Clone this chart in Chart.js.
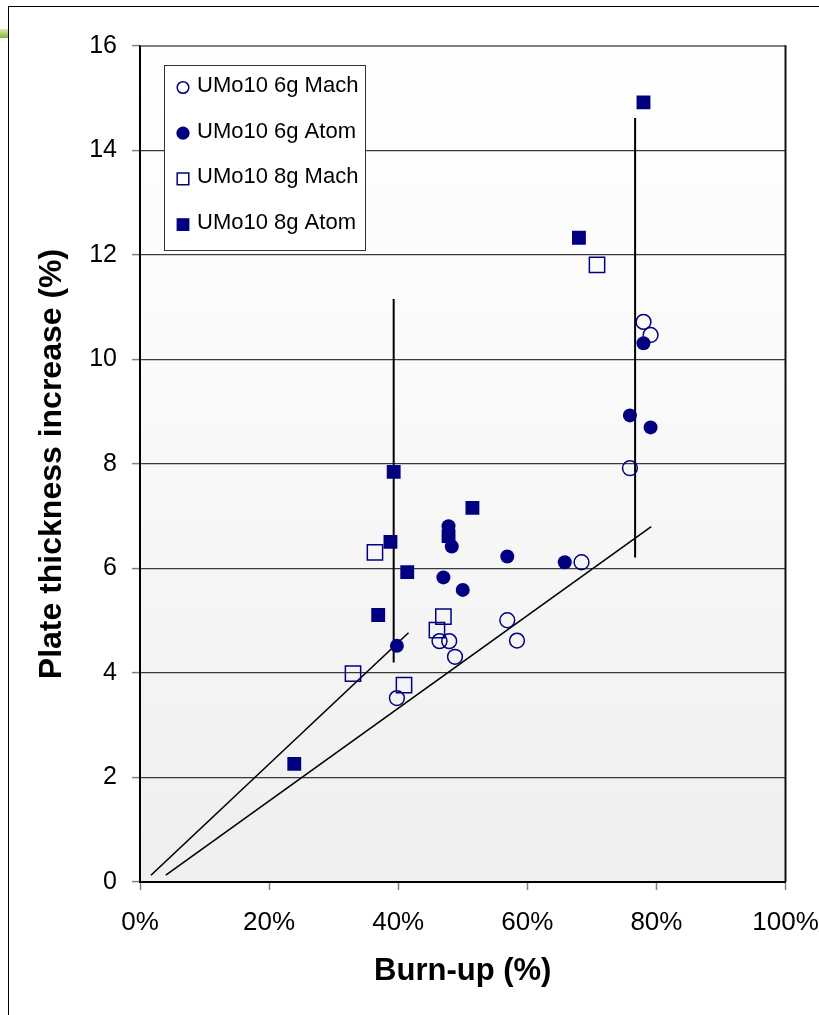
<!DOCTYPE html>
<html>
<head>
<meta charset="utf-8">
<script src="https://cdn.jsdelivr.net/npm/chart.js@4.4.1/dist/chart.umd.min.js"></script>
<style>
  html, body { margin: 0; padding: 0; background: #fff; }
  #wrap { position: relative; width: 819px; height: 1015px; overflow: hidden; }
  #frameL { position: absolute; left: 8px; top: 6px; width: 1px; height: 1009px; background: #000; }
  #frameT { position: absolute; left: 8px; top: 6px; width: 811px; height: 1px; background: #000; }
  #green { position: absolute; left: 0; top: 29px; width: 8px; height: 9px; background: linear-gradient(#d7ecb8, #7dbb2e); }
  canvas { position: absolute; left: 0; top: 0; }
</style>
</head>
<body>
<div id="wrap">
  <div id="green"></div>
  <div id="frameL"></div>
  <div id="frameT"></div>
  <canvas id="c" width="819" height="1015"></canvas>
</div>
<script>
// ---- data (burn-up %, plate thickness increase %) ----
const seriesNames = ['UMo10 6g Mach', 'UMo10 6g Atom', 'UMo10 8g Mach', 'UMo10 8g Atom'];

const mach6X = [39.8, 46.4, 47.9, 48.8, 56.9, 58.4, 68.4, 75.9, 78.0, 79.1];
const mach6Y = [3.52, 4.61, 4.61, 4.31, 5.01, 4.62, 6.12, 7.92, 10.72, 10.47];

const atom6X = [39.8, 47.8, 48.3, 47.0, 50.0, 56.9, 65.8, 75.9, 78.0, 79.1];
const atom6Y = [4.52, 6.81, 6.42, 5.83, 5.59, 6.23, 6.12, 8.93, 10.31, 8.70];

const mach8X = [33.0, 36.4, 40.9, 46.0, 47.0, 70.8];
const mach8Y = [3.99, 6.31, 3.77, 4.82, 5.08, 11.81];

const atom8X = [23.9, 36.9, 38.8, 39.3, 41.4, 47.8, 51.5, 68.0, 78.0];
const atom8Y = [2.26, 5.11, 6.51, 7.85, 5.93, 6.62, 7.16, 12.33, 14.92];

// guide lines
const vline1X = [39.3, 39.3];   const vline1Y = [4.2, 11.16];
const vline2X = [76.7, 76.7];   const vline2Y = [6.21, 14.62];
const diag1X  = [1.7, 41.6];    const diag1Y  = [0.13, 4.77];
const diag2X  = [4.0, 79.2];    const diag2Y  = [0.13, 6.80];

const xTicks = [0, 20, 40, 60, 80, 100];
const yTicks = [0, 2, 4, 6, 8, 10, 12, 14, 16];

const pts = (xs, ys) => xs.map((x, i) => ({ x: x, y: ys[i] }));
const NAVY = '#000080';
const FONT = "'Liberation Sans', Arial, Helvetica, sans-serif";

const lineDs = (xs, ys, w) => ({
  data: pts(xs, ys), showLine: true, pointRadius: 0, pointHoverRadius: 0,
  borderColor: '#000', borderWidth: w, fill: false, isGuide: true
});

const noPad = s => { s.paddingLeft = 0; s.paddingRight = 0; s.paddingTop = 0; s.paddingBottom = 0; };

const bgPlugin = {
  id: 'bgPlugin',
  beforeDraw(chart) {
    const { ctx, chartArea: a } = chart;
    const g = ctx.createLinearGradient(0, a.top, 0, a.bottom);
    g.addColorStop(0, '#ffffff');
    g.addColorStop(0.4, '#fafafa');
    g.addColorStop(1, '#efefef');
    ctx.save();
    ctx.fillStyle = g;
    ctx.fillRect(a.left, a.top, a.right - a.left, a.bottom - a.top);
    ctx.restore();
  },
  afterDraw(chart) {
    const { ctx, chartArea: a } = chart;
    ctx.save();
    // top & right border of plot area
    ctx.strokeStyle = '#555';
    ctx.lineWidth = 1.5;
    ctx.beginPath();
    ctx.moveTo(a.left, a.top); ctx.lineTo(a.right, a.top);
    ctx.stroke();
    ctx.strokeStyle = '#111';
    ctx.lineWidth = 2;
    ctx.beginPath();
    ctx.moveTo(a.right, a.top - 0.75); ctx.lineTo(a.right, a.bottom);
    ctx.stroke();

    // legend box
    const bx = 164.5, by = 65.5, bw = 201, bh = 185;
    ctx.fillStyle = '#fff';
    ctx.fillRect(bx, by, bw, bh);
    ctx.strokeStyle = '#333';
    ctx.lineWidth = 1;
    ctx.strokeRect(bx, by, bw, bh);
    ctx.font = '22px ' + FONT;
    ctx.textBaseline = 'middle';
    ctx.textAlign = 'left';
    for (let i = 0; i < 4; i++) {
      const ty = 86 + i * 45.7;
      const my = ty + 1.5;
      const mx = 183;
      ctx.fillStyle = NAVY;
      ctx.strokeStyle = NAVY;
      ctx.lineWidth = 1.5;
      ctx.beginPath();
      if (i === 0) { ctx.arc(mx, my, 5.8, 0, Math.PI * 2); ctx.stroke(); }
      else if (i === 1) { ctx.arc(mx, my, 6.6, 0, Math.PI * 2); ctx.fill(); }
      else if (i === 2) { ctx.rect(mx - 5.8, my - 5.8, 11.6, 11.6); ctx.stroke(); }
      else { ctx.rect(mx - 6.4, my - 6.4, 12.8, 12.8); ctx.fill(); }
      ctx.fillStyle = '#000';
      ctx.fillText(seriesNames[i], 197, ty);
    }
    ctx.restore();
  }
};

new Chart(document.getElementById('c'), {
  type: 'scatter',
  data: {
    datasets: [
      { label: seriesNames[0], data: pts(mach6X, mach6Y), pointStyle: 'circle', pointRadius: 7.4,
        backgroundColor: 'rgba(0,0,0,0)', borderColor: NAVY, borderWidth: 1.5 },
      { label: seriesNames[1], data: pts(atom6X, atom6Y), pointStyle: 'circle', pointRadius: 7,
        backgroundColor: NAVY, borderColor: NAVY, borderWidth: 0 },
      { label: seriesNames[2], data: pts(mach8X, mach8Y), pointStyle: 'rect', pointRadius: 10.8,
        backgroundColor: 'rgba(0,0,0,0)', borderColor: NAVY, borderWidth: 1.5 },
      { label: seriesNames[3], data: pts(atom8X, atom8Y), pointStyle: 'rect', pointRadius: 9.8,
        backgroundColor: NAVY, borderColor: NAVY, borderWidth: 0 },
      lineDs(vline1X, vline1Y, 2),
      lineDs(vline2X, vline2Y, 2),
      lineDs(diag1X, diag1Y, 1.6),
      lineDs(diag2X, diag2Y, 1.6)
    ]
  },
  options: {
    responsive: false,
    animation: false,
    events: [],
    layout: { padding: { top: 46, right: 33.5, left: 0, bottom: 0 }, autoPadding: false },
    plugins: { legend: { display: false }, tooltip: { enabled: false }, title: { display: false } },
    scales: {
      x: {
        type: 'linear', min: 0, max: 100,
        afterFit(s) { s.height = 133; noPad(s); },
        afterBuildTicks(s) { s.ticks = xTicks.map(v => ({ value: v })); },
        ticks: { callback: v => v + '%', font: { family: FONT, size: 26 }, color: '#000', padding: 17, maxRotation: 0 },
        grid: { drawOnChartArea: false, drawTicks: true, tickLength: 8, tickColor: '#808080', tickWidth: 1.5 },
        border: { display: true, color: '#000', width: 2 },
        title: { display: true, text: 'Burn-up (%)', color: '#000',
          font: { family: FONT, size: 31, weight: 'bold' }, padding: { top: 0, bottom: 25 } }
      },
      y: {
        type: 'linear', min: 0, max: 16,
        afterFit(s) { s.width = 140; noPad(s); },
        afterBuildTicks(s) { s.ticks = yTicks.map(v => ({ value: v })); },
        ticks: { font: { family: FONT, size: 25 }, color: '#000', padding: 15 },
        grid: { drawOnChartArea: true, drawTicks: true, tickLength: 8,
          color: ctx => (ctx.tick && (ctx.tick.value === 0 || ctx.tick.value === 16)) ? 'rgba(0,0,0,0)' : '#3a3a3a',
          lineWidth: 1.2, tickColor: '#808080', tickWidth: 1.5 },
        border: { display: true, color: '#000', width: 2 },
        title: { display: true, text: 'Plate thickness increase (%)', color: '#000',
          font: { family: FONT, size: 32, weight: 'bold' }, padding: { top: 33, bottom: 0 } }
      }
    }
  },
  plugins: [bgPlugin]
});
</script>
</body>
</html>
